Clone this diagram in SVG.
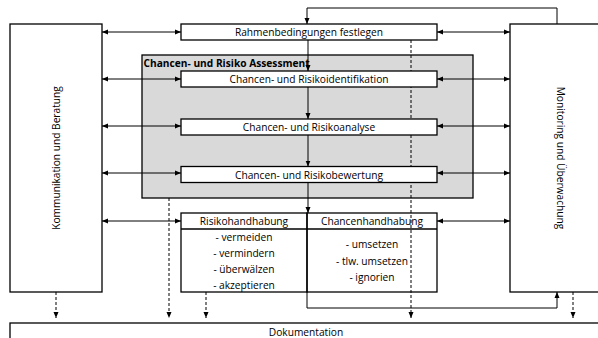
<svg xmlns="http://www.w3.org/2000/svg" width="598" height="338" viewBox="0 0 598 338">
  <style>
    .box { fill: #fff; stroke: #000; stroke-width: 1.3; }
    .open { fill: none; stroke: #000; stroke-width: 1.3; }
    .grey { fill: #d9d9d9; stroke: #000; stroke-width: 1.3; }
    .ln { fill: none; stroke: #000; stroke-width: 1; }
    .dash { fill: none; stroke: #000; stroke-width: 1; stroke-dasharray: 3 2; }
    text { font-family: "Open Sans", "Liberation Sans", sans-serif; font-size: 10.2px; fill: #000; }
    .c { text-anchor: middle; }
    .b { font-weight: bold; }
  </style>
  <defs>
    <marker id="ah" markerWidth="6" markerHeight="6" refX="6" refY="3" orient="auto" markerUnits="userSpaceOnUse">
      <path d="M0,0.5 L6,3 L0,5.5 Z" fill="#000"/>
    </marker>
    <marker id="as" markerWidth="6" markerHeight="6" refX="6" refY="3" orient="auto-start-reverse" markerUnits="userSpaceOnUse">
      <path d="M0,0.5 L6,3 L0,5.5 Z" fill="#000"/>
    </marker>
  </defs>

  <!-- assessment frame -->
  <g id="assessment">
    <rect class="grey" x="142" y="55" width="331" height="143"/>
    <text class="b" x="143.5" y="67">Chancen- und Risiko Assessment</text>
  </g>

  <!-- dashed documentation flows drawn below the inner boxes -->
  <g id="doc-flows">
    <path class="dash" d="M411,40 V318" marker-end="url(#ah)"/>
    <path class="dash" d="M169,198 V318" marker-end="url(#ah)"/>
    <path class="dash" d="M56,292 V318" marker-end="url(#ah)"/>
    <path class="dash" d="M206,292 V318" marker-end="url(#ah)"/>
    <path class="dash" d="M573,292 V318" marker-end="url(#ah)"/>
  </g>

  <g id="kommunikation">
    <rect class="box" x="10" y="24" width="92" height="268"/>
    <text class="c" transform="translate(60,158) rotate(-90)">Kommunikation und Beratung</text>
  </g>

  <g id="monitoring">
    <rect class="box" x="510" y="24" width="100" height="268"/>
    <text class="c" transform="translate(557,158) rotate(90)">Monitoring und Überwachung</text>
  </g>

  <g id="rahmen">
    <rect class="box" x="181" y="24" width="256" height="16"/>
    <text class="c" x="309" y="36">Rahmenbedingungen festlegen</text>
  </g>

  <g id="identifikation">
    <rect class="box" x="181" y="71" width="256" height="16"/>
    <text class="c" x="309" y="83">Chancen- und Risikoidentifikation</text>
  </g>

  <g id="analyse">
    <rect class="box" x="181" y="119" width="256" height="16"/>
    <text class="c" x="309" y="131">Chancen- und Risikoanalyse</text>
  </g>

  <g id="bewertung">
    <rect class="box" x="181" y="166.5" width="256" height="16"/>
    <text class="c" x="309" y="178.5">Chancen- und Risikobewertung</text>
  </g>

  <g id="risikohandhabung">
    <rect class="open" x="181" y="213" width="126" height="79"/>
    <line class="open" x1="181" y1="229" x2="307" y2="229"/>
    <text class="c" x="244" y="225">Risikohandhabung</text>
    <text class="c" x="244" y="241">- vermeiden</text>
    <text class="c" x="244" y="257">- vermindern</text>
    <text class="c" x="244" y="273">- überwälzen</text>
    <text class="c" x="244" y="289">- akzeptieren</text>
  </g>

  <g id="chancenhandhabung">
    <rect class="open" x="307" y="213" width="130" height="79"/>
    <line class="open" x1="307" y1="229" x2="437" y2="229"/>
    <text class="c" x="372" y="225">Chancenhandhabung</text>
    <text class="c" x="372" y="248">- umsetzen</text>
    <text class="c" x="372" y="265">- tlw. umsetzen</text>
    <text class="c" x="372" y="281">- ignorien</text>
  </g>

  <g id="dokumentation">
    <rect class="box" x="10" y="323" width="592" height="24"/>
    <text class="c" x="306" y="335.5">Dokumentation</text>
  </g>

  <g id="connectors">
    <!-- main process chain -->
    <path class="ln" d="M308,40 V71" marker-end="url(#ah)"/>
    <path class="ln" d="M308,87 V119" marker-end="url(#ah)"/>
    <path class="ln" d="M308,135 V166.5" marker-end="url(#ah)"/>
    <path class="ln" d="M308,182.5 V213" marker-end="url(#ah)"/>
    <!-- communication links -->
    <path class="ln" d="M102,32 H181" marker-start="url(#as)" marker-end="url(#ah)"/>
    <path class="ln" d="M102,79 H181" marker-start="url(#as)" marker-end="url(#ah)"/>
    <path class="ln" d="M102,126 H181" marker-start="url(#as)" marker-end="url(#ah)"/>
    <path class="ln" d="M102,173 H181" marker-start="url(#as)" marker-end="url(#ah)"/>
    <path class="ln" d="M102,221 H181" marker-start="url(#as)" marker-end="url(#ah)"/>
    <!-- monitoring links -->
    <path class="ln" d="M437,32 H510" marker-start="url(#as)" marker-end="url(#ah)"/>
    <path class="ln" d="M437,79 H510" marker-start="url(#as)" marker-end="url(#ah)"/>
    <path class="ln" d="M437,126 H510" marker-start="url(#as)" marker-end="url(#ah)"/>
    <path class="ln" d="M437,173 H510" marker-start="url(#as)" marker-end="url(#ah)"/>
    <path class="ln" d="M437,221 H510" marker-start="url(#as)" marker-end="url(#ah)"/>
    <!-- feedback loops -->
    <path class="ln" d="M557,24 V8 H307 V24" marker-end="url(#ah)"/>
    <path class="ln" d="M307,292 V308 H557 V292" marker-end="url(#ah)"/>
  </g>
</svg>
